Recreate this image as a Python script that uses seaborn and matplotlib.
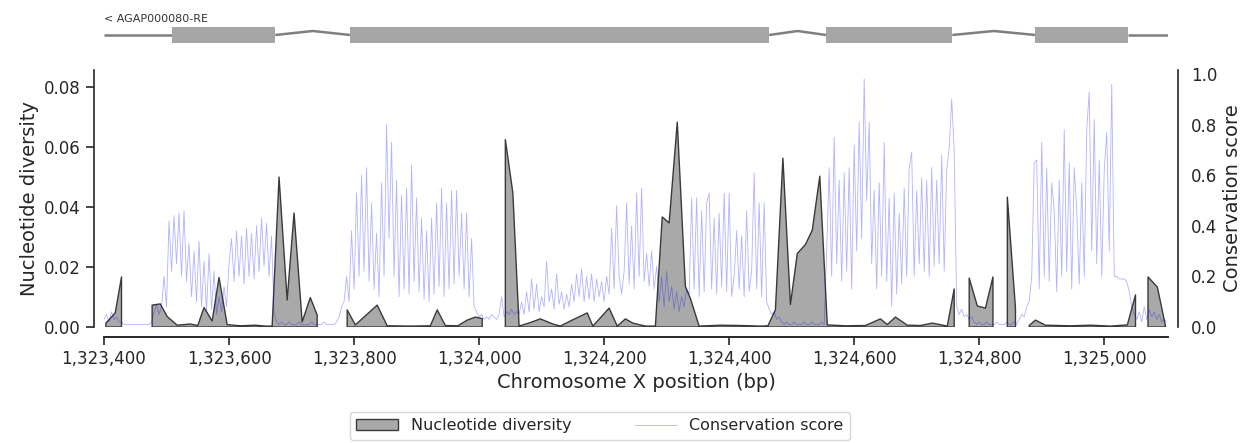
import numpy as np
import matplotlib
matplotlib.use("Agg")
import matplotlib.pyplot as plt
from matplotlib.patches import Rectangle
from matplotlib.ticker import FuncFormatter, MultipleLocator
import seaborn as sns

sns.set_style("ticks")
plt.rcParams["font.family"] = ["DejaVu Sans"]

# ---------------------------------------------------------------- data
region_start, region_stop = 1323400, 1325100

gene_name = "AGAP000080-RE"
exon_starts = [1323509, 1323794, 1324555, 1324890]
exon_stops = [1323674, 1324464, 1324757, 1325038]

# nucleotide diversity, windowed; NaN marks windows without accessible sites
div_pos = [
    1323403, 1323418, 1323428, 1323452,
    1323477, 1323490, 1323501, 1323517, 1323538, 1323550, 1323560, 1323573,
    1323584, 1323597, 1323618, 1323642, 1323658, 1323669, 1323680, 1323693,
    1323704, 1323717, 1323730, 1323741, 1323765,
    1323789, 1323802, 1323837, 1323853, 1323890, 1323922, 1323933, 1323946,
    1323966, 1323981, 1323994, 1324005, 1324024,
    1324042, 1324054, 1324064, 1324082, 1324098, 1324118, 1324130, 1324146,
    1324173, 1324182, 1324208, 1324221, 1324234, 1324246, 1324266, 1324282,
    1324293, 1324304, 1324317, 1324330, 1324338, 1324352, 1324386, 1324418,
    1324450, 1324462, 1324474, 1324486, 1324498, 1324509, 1324522, 1324533,
    1324545, 1324557, 1324586, 1324618, 1324642, 1324653, 1324666, 1324685,
    1324706, 1324725, 1324749, 1324760, 1324772,
    1324784, 1324797, 1324810, 1324822, 1324834,
    1324845, 1324858, 1324869,
    1324880, 1324890, 1324906, 1324946, 1324978, 1325010, 1325037, 1325050,
    1325060,
    1325070, 1325085, 1325098,
]
div_val = [
    0.0013, 0.0047, 0.0167, np.nan,
    0.0073, 0.0077, 0.0035, 0.0006, 0.0010, 0.0005, 0.0065, 0.0020,
    0.0165, 0.0008, 0.0004, 0.0006, 0.0003, 0.0003, 0.0500, 0.0090,
    0.0380, 0.0017, 0.0098, 0.0040, np.nan,
    0.0057, 0.0007, 0.0073, 0.0004, 0.0003, 0.0004, 0.0057, 0.0005,
    0.0004, 0.0023, 0.0033, 0.0028, np.nan,
    0.0625, 0.0447, 0.0003, 0.0015, 0.0027, 0.0010, 0.0003, 0.0020,
    0.0047, 0.0003, 0.0063, 0.0003, 0.0027, 0.0013, 0.0003, 0.0003,
    0.0367, 0.0347, 0.0683, 0.0135, 0.0095, 0.0003, 0.0006, 0.0005,
    0.0003, 0.0004, 0.0057, 0.0563, 0.0075, 0.0245, 0.0275, 0.0323,
    0.0503, 0.0007, 0.0004, 0.0005, 0.0027, 0.0008, 0.0033, 0.0006,
    0.0005, 0.0013, 0.0003, 0.0127, np.nan,
    0.0163, 0.0070, 0.0063, 0.0167, np.nan,
    0.0433, 0.0063, np.nan,
    0.0005, 0.0023, 0.0006, 0.0004, 0.0006, 0.0003, 0.0007, 0.0107,
    np.nan,
    0.0167, 0.0133, 0.0003,
]

# per-site conservation score, sampled every 4 bp from region_start
cons_step = 4
cons_val = [
    # upstream flank / intron
    0.03, 0.05, 0.02, 0.06, 0.03, 0.04, 0.02,
    0.02, 0.01, 0.01, 0.01, 0.01, 0.01, 0.01, 0.01, 0.01, 0.01, 0.01, 0.01, 0.02,
    0.06, 0.09, 0.05, 0.08,
    # exon 1
    0.20, 0.08, 0.42, 0.22, 0.44, 0.25, 0.45, 0.20, 0.46, 0.18, 0.33, 0.12, 0.30, 0.10,
    0.34, 0.08, 0.26, 0.06, 0.29, 0.07, 0.22, 0.05, 0.12, 0.06, 0.16, 0.08,
    0.25, 0.35, 0.18, 0.38, 0.20, 0.36, 0.17, 0.39, 0.20, 0.37, 0.19, 0.40,
    0.22, 0.43, 0.24, 0.41, 0.20, 0.36,
    # intron 1
    0.06, 0.02, 0.01, 0.02, 0.01, 0.01, 0.02, 0.01, 0.01, 0.01, 0.02, 0.01,
    0.01, 0.01, 0.01, 0.02, 0.01, 0.01, 0.01, 0.01, 0.02, 0.01, 0.01, 0.01,
    0.01, 0.02, 0.04, 0.08,
    # exon 2
    0.10, 0.20, 0.10, 0.38, 0.15, 0.53, 0.20, 0.60, 0.22, 0.63, 0.18, 0.49,
    0.15, 0.37, 0.12, 0.57, 0.20, 0.80, 0.35, 0.73, 0.20, 0.58, 0.12, 0.52,
    0.15, 0.55, 0.13, 0.64, 0.18, 0.51, 0.14, 0.43, 0.11, 0.38, 0.10, 0.43,
    0.13, 0.49, 0.16, 0.55, 0.12, 0.49, 0.15, 0.54, 0.17, 0.54,
    0.20, 0.45, 0.15, 0.45, 0.12, 0.35, 0.08, 0.06, 0.04,
    0.05, 0.03, 0.04, 0.03, 0.05, 0.04, 0.03, 0.05, 0.12, 0.04, 0.06, 0.05,
    0.07, 0.05, 0.06,
    0.05, 0.10, 0.05, 0.14, 0.06, 0.19, 0.07, 0.17, 0.06, 0.12, 0.08, 0.26,
    0.10, 0.15, 0.07, 0.21, 0.09, 0.14, 0.07, 0.13, 0.08, 0.17, 0.10, 0.21,
    0.12, 0.23, 0.10, 0.20, 0.11, 0.21, 0.10, 0.19,
    0.12, 0.18, 0.10, 0.20, 0.13, 0.39, 0.15, 0.48, 0.20, 0.13, 0.22, 0.49,
    0.17, 0.40, 0.15, 0.53, 0.20, 0.55, 0.18, 0.29, 0.16, 0.30,
    0.15, 0.24, 0.10, 0.20, 0.08, 0.22, 0.10, 0.16, 0.07, 0.14, 0.06, 0.12,
    0.08, 0.15,
    0.13, 0.51, 0.15, 0.51, 0.12, 0.46, 0.14, 0.49, 0.53, 0.15, 0.43, 0.13,
    0.45, 0.16, 0.53, 0.14, 0.53, 0.12, 0.20, 0.38, 0.15, 0.36, 0.12, 0.46,
    0.14, 0.22, 0.61, 0.15, 0.49, 0.12, 0.49,
    # intron 2
    0.10, 0.07, 0.05, 0.06, 0.03, 0.04, 0.02,
    0.01, 0.02, 0.01, 0.01, 0.02, 0.01, 0.01, 0.01, 0.02, 0.01, 0.01, 0.02,
    0.01, 0.01, 0.01, 0.02, 0.01,
    # exon 3
    0.30, 0.63, 0.20, 0.75, 0.25, 0.58, 0.18, 0.61, 0.22, 0.63, 0.15, 0.72,
    0.30, 0.81, 0.35, 0.98, 0.50, 0.81, 0.25, 0.54, 0.15, 0.57, 0.20, 0.73,
    0.18, 0.51, 0.08, 0.53, 0.13, 0.45, 0.17, 0.55, 0.20, 0.63, 0.69, 0.20,
    0.54, 0.25, 0.59, 0.22, 0.58, 0.20, 0.63, 0.24, 0.58, 0.25, 0.68, 0.22,
    0.62, 0.71, 0.90, 0.70,
    # intron 3
    0.08, 0.05, 0.07, 0.04, 0.05, 0.03, 0.04, 0.02,
    0.01, 0.02, 0.01, 0.01, 0.02, 0.01, 0.01, 0.01, 0.02, 0.01, 0.01, 0.01,
    0.02, 0.01, 0.01, 0.02, 0.01,
    0.03, 0.05, 0.04, 0.08,
    # exon 4
    0.10, 0.20, 0.65, 0.66, 0.15, 0.73, 0.20, 0.63, 0.18, 0.57, 0.46, 0.14,
    0.58, 0.20, 0.78, 0.22, 0.65, 0.15, 0.63, 0.46, 0.17, 0.57, 0.20, 0.78,
    0.93, 0.30, 0.82, 0.25, 0.66, 0.20, 0.62, 0.77, 0.30, 0.96,
    # downstream flank
    0.20, 0.20, 0.19, 0.19, 0.19, 0.18, 0.14, 0.08, 0.05, 0.03, 0.06, 0.02,
    0.08, 0.03, 0.07, 0.04, 0.06, 0.03, 0.05, 0.02, 0.03, 0.02,
]
cons_pos = region_start + cons_step * np.arange(len(cons_val))

# ---------------------------------------------------------------- figure
W, H, DPI = 1247, 443, 100
fig = plt.figure(figsize=(W / DPI, H / DPI), dpi=DPI)

left, right = 104 / W, 1168 / W
ax = fig.add_axes([left, (H - 327) / H, right - left, 257 / H])
gax = fig.add_axes([left, (H - 50) / H, right - left, 40 / H])

xlim = (region_start, region_stop + 2)

# gene model
gene_y = 0.375
exon_h = 0.40
gax.set_xlim(*xlim)
gax.set_ylim(0, 1)
gax.axis("off")
line_kw = dict(color="#7f7f7f", lw=1.8, solid_capstyle="butt", zorder=1)
gax.plot([xlim[0], exon_starts[0]], [gene_y, gene_y], **line_kw)
gax.plot([exon_stops[-1], xlim[1]], [gene_y, gene_y], **line_kw)
for stop, nxt in zip(exon_stops[:-1], exon_starts[1:]):
    mid = (stop + nxt) / 2
    gax.plot([stop, mid, nxt], [gene_y, gene_y + 0.1, gene_y], **line_kw)
for s, e in zip(exon_starts, exon_stops):
    gax.add_patch(Rectangle((s, gene_y - exon_h / 2), e - s, exon_h,
                            facecolor="#a6a6a6", edgecolor="none", zorder=2))
gax.text(xlim[0], 0.66, "< " + gene_name, fontsize=8, color="#333333",
         ha="left", va="bottom")

# nucleotide diversity
dp = np.array(div_pos, dtype=float)
dv = np.array(div_val, dtype=float)
fill = ax.fill_between(dp, 0, dv, facecolor="#a9a9a9", edgecolor="#3a3a3a",
                       linewidth=1.0, label="Nucleotide diversity", zorder=2)
ax.set_xlim(*xlim)
ax.set_ylim(0, 0.0857)
ax.yaxis.set_major_locator(MultipleLocator(0.02))
ax.yaxis.set_major_formatter(FuncFormatter(lambda v, p: f"{v:.2f}"))
ax.xaxis.set_major_locator(MultipleLocator(200))
ax.xaxis.set_major_formatter(FuncFormatter(lambda v, p: f"{v:,.0f}"))
ax.set_xlabel("Chromosome X position (bp)", fontsize=14, labelpad=4)
ax.set_ylabel("Nucleotide diversity", fontsize=14)
ax.tick_params(labelsize=12, length=6, width=1.2, colors="#262626")

# conservation score on a twin axis
ax2 = ax.twinx()
cons_line, = ax2.plot(cons_pos, cons_val, color="b", lw=0.6, alpha=0.3,
                      label="Conservation score")
ax2.set_ylim(0, 1.016)
ax2.yaxis.set_major_locator(MultipleLocator(0.2))
ax2.yaxis.set_major_formatter(FuncFormatter(lambda v, p: f"{v:.1f}"))
ax2.set_ylabel("Conservation score", fontsize=14)
ax2.tick_params(labelsize=12, length=6, width=1.2, colors="#262626")

sns.despine(ax=ax, offset=7)
sns.despine(ax=ax2, left=True, right=False, offset=7)
for a in (ax, ax2):
    for sp in a.spines.values():
        sp.set_linewidth(1.2)
        sp.set_color("#262626")

fig.legend([fill, cons_line], ["Nucleotide diversity", "Conservation score"],
           loc="upper center", bbox_to_anchor=(600 / W, (H - 412) / H),
           ncol=2, fontsize=11.5, frameon=True, handlelength=2.6,
           columnspacing=4.0, borderaxespad=0)

fig.savefig("out.png", dpi=DPI)
